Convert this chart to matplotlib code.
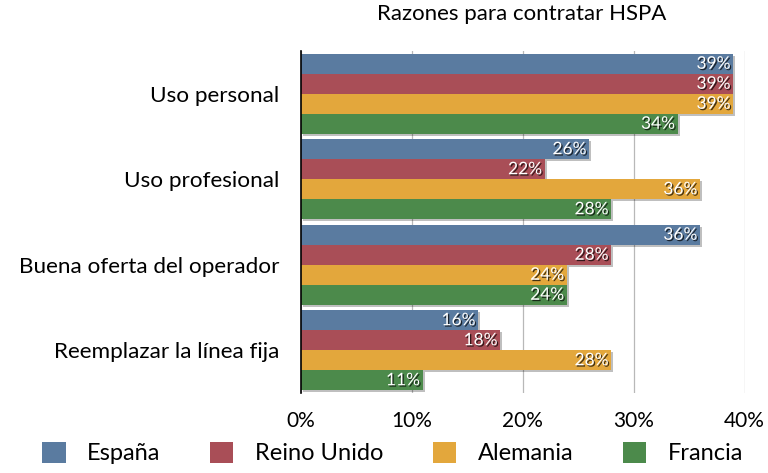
import matplotlib
matplotlib.use("Agg")
import matplotlib.pyplot as plt
import matplotlib.patheffects as pe
from matplotlib.patches import Patch
import numpy as np

plt.rcParams['font.family'] = ['Lato', 'DejaVu Sans']

title = "Razones para contratar HSPA"
categories = ["Uso personal", "Uso profesional", "Buena oferta del operador", "Reemplazar la línea fija"]
series = ["España", "Reino Unido", "Alemania", "Francia"]
espana = [39, 26, 36, 16]
reino_unido = [39, 22, 28, 18]
alemania = [39, 36, 24, 28]
francia = [34, 28, 24, 11]
xticks = [0, 10, 20, 30, 40]
xtick_labels = ["0%", "10%", "20%", "30%", "40%"]

values = [espana, reino_unido, alemania, francia]
colors = ["#5a7ba0", "#a94e57", "#e3a73c", "#4c8a4b"]

fig = plt.figure(figsize=(7.68, 4.73), dpi=100)
ax = fig.add_axes([300.5/768, 1-393/473, 444/768, 342/473])

h = 0.234
y = np.arange(len(categories))
for i, (vals, c) in enumerate(zip(values, colors)):
    pos = y + (i - 1.5) * h
    bars = ax.barh(pos, vals, height=h, color=c, zorder=3,
                   path_effects=[pe.withSimplePatchShadow(offset=(1.5, -1.5), shadow_rgbFace='black', alpha=0.25)])
    for b, v in zip(bars, vals):
        ax.text(v - 0.25, b.get_y() + b.get_height()/2, f"{v}%", ha='right', va='center',
                color='white', fontsize=12.5, zorder=5,
                path_effects=[pe.withSimplePatchShadow(offset=(1, -1), shadow_rgbFace='black', alpha=0.7)])

ax.set_xlim(0, 40)
ax.set_ylim(len(categories) - 0.5, -0.5)
ax.set_xticks(xticks)
ax.set_xticklabels(xtick_labels, fontsize=15)
ax.set_yticks(y)
ax.set_yticklabels(categories, fontsize=16.2)
ax.tick_params(axis='x', length=0, pad=13)
ax.tick_params(axis='y', length=0, pad=15)
ax.grid(axis='x', color='#b8b8b8', linewidth=0.9, zorder=0)
ax.set_axisbelow(True)
for s in ['top', 'right', 'bottom']:
    ax.spines[s].set_visible(False)
ax.spines['left'].set_color('black')
ax.spines['left'].set_linewidth(1.2)
ax.spines['left'].set_zorder(6)

fig.text(522/768, 1-14/473, title, ha='center', va='center', fontsize=16)

handles = [Patch(facecolor=c, edgecolor='none') for c in colors]
fig.legend(handles, series, loc='center', bbox_to_anchor=(392.5/768, 1-453/473), ncol=4,
           frameon=False, fontsize=17, handlelength=1.0, handleheight=1.0,
           handletextpad=0.9, columnspacing=2.1, borderpad=0, borderaxespad=0)

fig.savefig("out.png", dpi=100)
